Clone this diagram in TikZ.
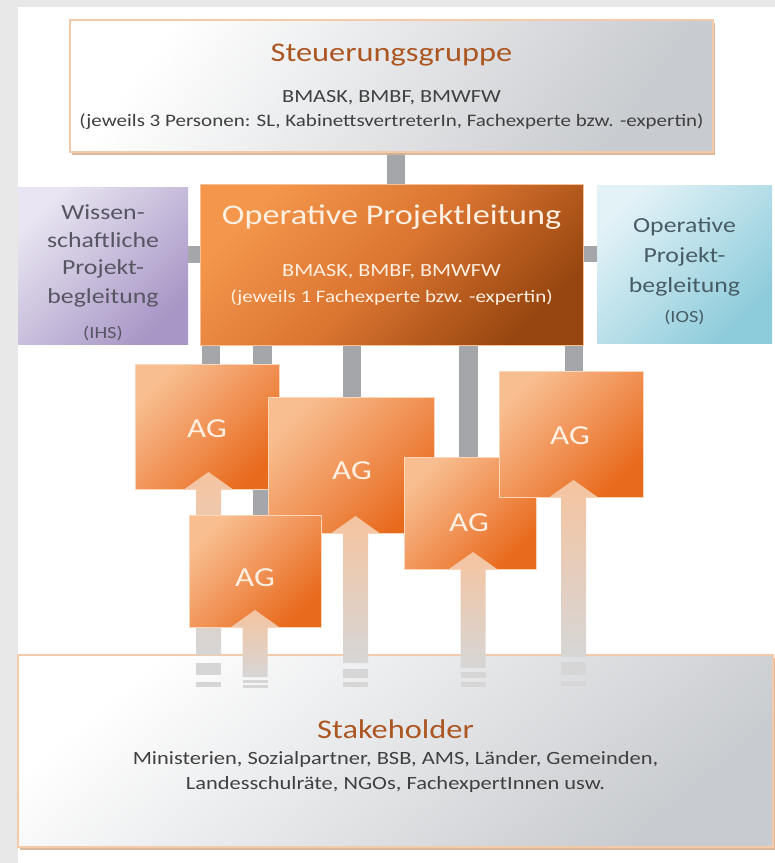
\documentclass[tikz,border=0pt]{standalone}
\usepackage{fontspec}
\setmainfont{Carlito}[FakeStretch=1.2]
\usetikzlibrary{calc,shadows}

\definecolor{pagegray}{RGB}{232,232,232}
\definecolor{barcol}{RGB}{165,166,170}
\definecolor{titlebrown}{RGB}{172,86,34}
\definecolor{bodygray}{RGB}{64,64,64}
\definecolor{rimorange}{RGB}{243,203,170}
\definecolor{shadowtan}{RGB}{214,178,146}
\definecolor{panelgray}{RGB}{200,203,207}
\definecolor{lilaclight}{RGB}{232,228,241}
\definecolor{lilacdark}{RGB}{168,150,198}
\definecolor{lilactext}{RGB}{88,86,98}
\definecolor{skylight}{RGB}{226,242,247}
\definecolor{skydark}{RGB}{140,203,218}
\definecolor{skytext}{RGB}{72,92,102}
\definecolor{opertop}{RGB}{244,150,76}
\definecolor{opermid}{RGB}{218,116,48}
\definecolor{operbottom}{RGB}{152,70,16}
\definecolor{cream}{RGB}{255,240,226}
\definecolor{agtop}{RGB}{248,190,144}
\definecolor{agmid}{RGB}{241,148,88}
\definecolor{agbottom}{RGB}{232,106,28}
\definecolor{agrim}{RGB}{251,214,184}
\definecolor{peach}{RGB}{246,196,160}
\definecolor{fadegray}{RGB}{214,214,214}

\pgfdeclarelayer{page}
\pgfdeclarelayer{links}
\pgfsetlayers{page,links,main}

% feed arrow from the stakeholder panel up into a working group
% #1 axis coordinate, #2 working-group node, #3 depth of the solid shaft
\newcommand\feedarrow[3]{%
  \path[feed] ($(#1 |- #2.south)+(-12.5,0)$) -- ($(#1 |- #2.south)+(-24,0)$)
    -- ($(#1 |- #2.south)+(0,-17)$) -- ($(#1 |- #2.south)+(24,0)$)
    -- ($(#1 |- #2.south)+(12.5,0)$) -- ($(#1 |- stake.north)+(12.5,#3)$)
    -- ($(#1 |- stake.north)+(-12.5,#3)$) -- cycle;}
% faded stripe below a shaft: #1 axis, #2 top offset, #3 bottom offset
\newcommand\fadestripe[3]{%
  \fill[fadegray] ($(#1 |- stake.north)+(-12.5,#2)$) rectangle ($(#1 |- stake.north)+(12.5,#3)$);}

\begin{document}
\begin{tikzpicture}[x=1pt,y=-1pt,
  panel/.style={rectangle, inner sep=0pt, outer sep=0pt},
  link/.style={draw=barcol, line width=#1, line cap=butt},
  link/.default=18pt,
  greypanel/.style={panel, top color=white, bottom color=panelgray, shading angle=55,
    draw=rimorange, line width=1.4pt,
    drop shadow={shadow xshift=2pt, shadow yshift=-3pt, fill=shadowtan, opacity=0.9}},
  agbox/.style={panel, top color=agtop, bottom color=agbottom, middle color=agmid,
    shading angle=45, draw=agrim, line width=0.8pt},
  feed/.style={top color=peach, bottom color=fadegray},
  txt/.style={inner sep=0pt, anchor=base},
  title/.style={txt, text=titlebrown, font=\fontsize{27}{32}\selectfont},
  body/.style={txt, text=bodygray, font=\fontsize{18.5}{22}\selectfont},
  note/.style={txt, text=bodygray, font=\fontsize{17.5}{21}\selectfont},
  side/.style={txt, font=\fontsize{21.5}{26}\selectfont},
  sidesmall/.style={txt, font=\fontsize{17}{20}\selectfont},
  agtext/.style={txt, text=cream, font=\fontsize{27.5}{32}\selectfont},
]
\useasboundingbox (0,0) rectangle (775,863);
\begin{pgfonlayer}{page}
  \fill[pagegray] (0,0) rectangle (775,863);
  \fill[white] (18,7) rectangle (775,863);
\end{pgfonlayer}

% ---------- upper panels ----------
\node[greypanel, minimum width=643pt, minimum height=132pt] (steuer) at (391.5,86) {};
\node[title] (steuer-title) at (391.5,61) {Steuerungsgruppe};
\node[body] (steuer-members) at (391.5,102) {BMASK, BMBF, BMWFW};
\node[note] (steuer-note) at (391.5,126) {(jeweils 3 Personen: SL, KabinettsvertreterIn, Fachexperte bzw. -expertin)};

\node[panel, top color=lilaclight, bottom color=lilacdark, shading angle=45,
  minimum width=170pt, minimum height=157pt] (wiss) at (103,265.5) {};
\node[side, text=lilactext] (wiss-l1) at (103,219) {Wissen-};
\node[side, text=lilactext] (wiss-l2) at (103,247) {schaftliche};
\node[side, text=lilactext] (wiss-l3) at (103,274) {Projekt-};
\node[side, text=lilactext] (wiss-l4) at (103,303) {begleitung};
\node[sidesmall, text=lilactext] (wiss-l5) at (103,338) {(IHS)};

\node[panel, top color=opertop, bottom color=operbottom, middle color=opermid,
  shading angle=45, draw=opertop!60!white, line width=0.6pt,
  minimum width=383pt, minimum height=161pt] (oper) at (391.5,264.5) {};
\node[txt, text=cream, font=\fontsize{28.5}{34}\selectfont] (oper-title) at (391.5,224) {Operative Projektleitung};
\node[body, text=cream] (oper-members) at (391.5,276) {BMASK, BMBF, BMWFW};
\node[note, text=cream] (oper-note) at (391.5,302) {(jeweils 1 Fachexperte bzw. -expertin)};

\node[panel, top color=skylight, bottom color=skydark, shading angle=45,
  minimum width=175pt, minimum height=158pt] (opbeg) at (684.5,264) {};
\node[side, text=skytext] (opbeg-l1) at (684.5,232) {Operative};
\node[side, text=skytext] (opbeg-l2) at (684.5,262) {Projekt-};
\node[side, text=skytext] (opbeg-l3) at (684.5,292) {begleitung};
\node[sidesmall, text=skytext] (opbeg-l4) at (684.5,322) {(IOS)};

% ---------- stakeholder panel ----------
\node[greypanel, shading angle=40, minimum width=755pt, minimum height=192pt] (stake) at (395.5,751) {};
\node[title] (stake-title) at (395.5,738) {Stakeholder};
\node[body, font=\fontsize{18.7}{22}\selectfont] (stake-l1) at (395.5,764) {Ministerien, Sozialpartner, BSB, AMS, Länder, Gemeinden,};
\node[body, font=\fontsize{18.7}{22}\selectfont] (stake-l2) at (395.5,789) {Landesschulräte, NGOs, FachexpertInnen usw.};

% axes of the working-group links and feed arrows
\coordinate (lk1) at (211,0);
\coordinate (lk2) at (262.5,0);
\coordinate (lk3) at (352,0);
\coordinate (lk4) at (468.5,0);
\coordinate (lk5) at (574,0);
\coordinate (fd1) at (208.5,0);
\coordinate (fd2) at (355.5,0);
\coordinate (fd3) at (255,0);
\coordinate (fd4) at (473,0);
\coordinate (fd5) at (573.5,0);

% ---------- working groups ----------
\node[agbox, minimum width=144pt, minimum height=125pt] (agA) at (207,426.5) {};
\feedarrow{fd1}{agA}{0}
\node[agtext] (agA-label) at (207,437) {AG};

\node[agbox, minimum width=166pt, minimum height=136pt] (agB) at (351,465) {};
\feedarrow{fd2}{agB}{8}
\node[agtext] (agB-label) at (352,479) {AG};

\node[agbox, minimum width=132pt, minimum height=112pt] (agC) at (255,571) {};
\feedarrow{fd3}{agC}{22}
\node[agtext] (agC-label) at (255,586) {AG};

\node[agbox, minimum width=132pt, minimum height=112pt] (agD) at (470,513) {};
\feedarrow{fd4}{agD}{13}
\node[agtext] (agD-label) at (469,531) {AG};

\node[agbox, minimum width=144pt, minimum height=126pt] (agE) at (571,434) {};
\feedarrow{fd5}{agE}{2}
\node[agtext] (agE-label) at (570,444) {AG};

% faded ends of the feed shafts
\fadestripe{fd1}{8}{20}  \fadestripe{fd1}{27}{32}
\fadestripe{fd2}{14}{23} \fadestripe{fd2}{27}{32}
\fadestripe{fd3}{25}{28} \fadestripe{fd3}{30}{33}
\fadestripe{fd4}{17}{23} \fadestripe{fd4}{27}{32}
\fadestripe{fd5}{7}{20}  \fadestripe{fd5}{26}{31}

% ---------- links ----------
\begin{pgfonlayer}{links}
  \draw[link] (396,0 |- steuer.south) -- (396,0 |- oper.north);
  \draw[link=17pt] (wiss.east |- 0,254.5) -- (oper.west |- 0,254.5);
  \draw[link=16pt] (oper.east |- 0,254) -- (opbeg.west |- 0,254);
  \draw[link] (lk1 |- oper.south) -- (lk1 |- agA.north);
  \draw[link=19pt] (lk2 |- oper.south) -- (lk2 |- agC.north);
  \draw[link] (lk3 |- oper.south) -- (lk3 |- agB.north);
  \draw[link=19pt] (lk4 |- oper.south) -- (lk4 |- agD.north);
  \draw[link] (lk5 |- oper.south) -- (lk5 |- agE.north);
\end{pgfonlayer}
\end{tikzpicture}
\end{document}
